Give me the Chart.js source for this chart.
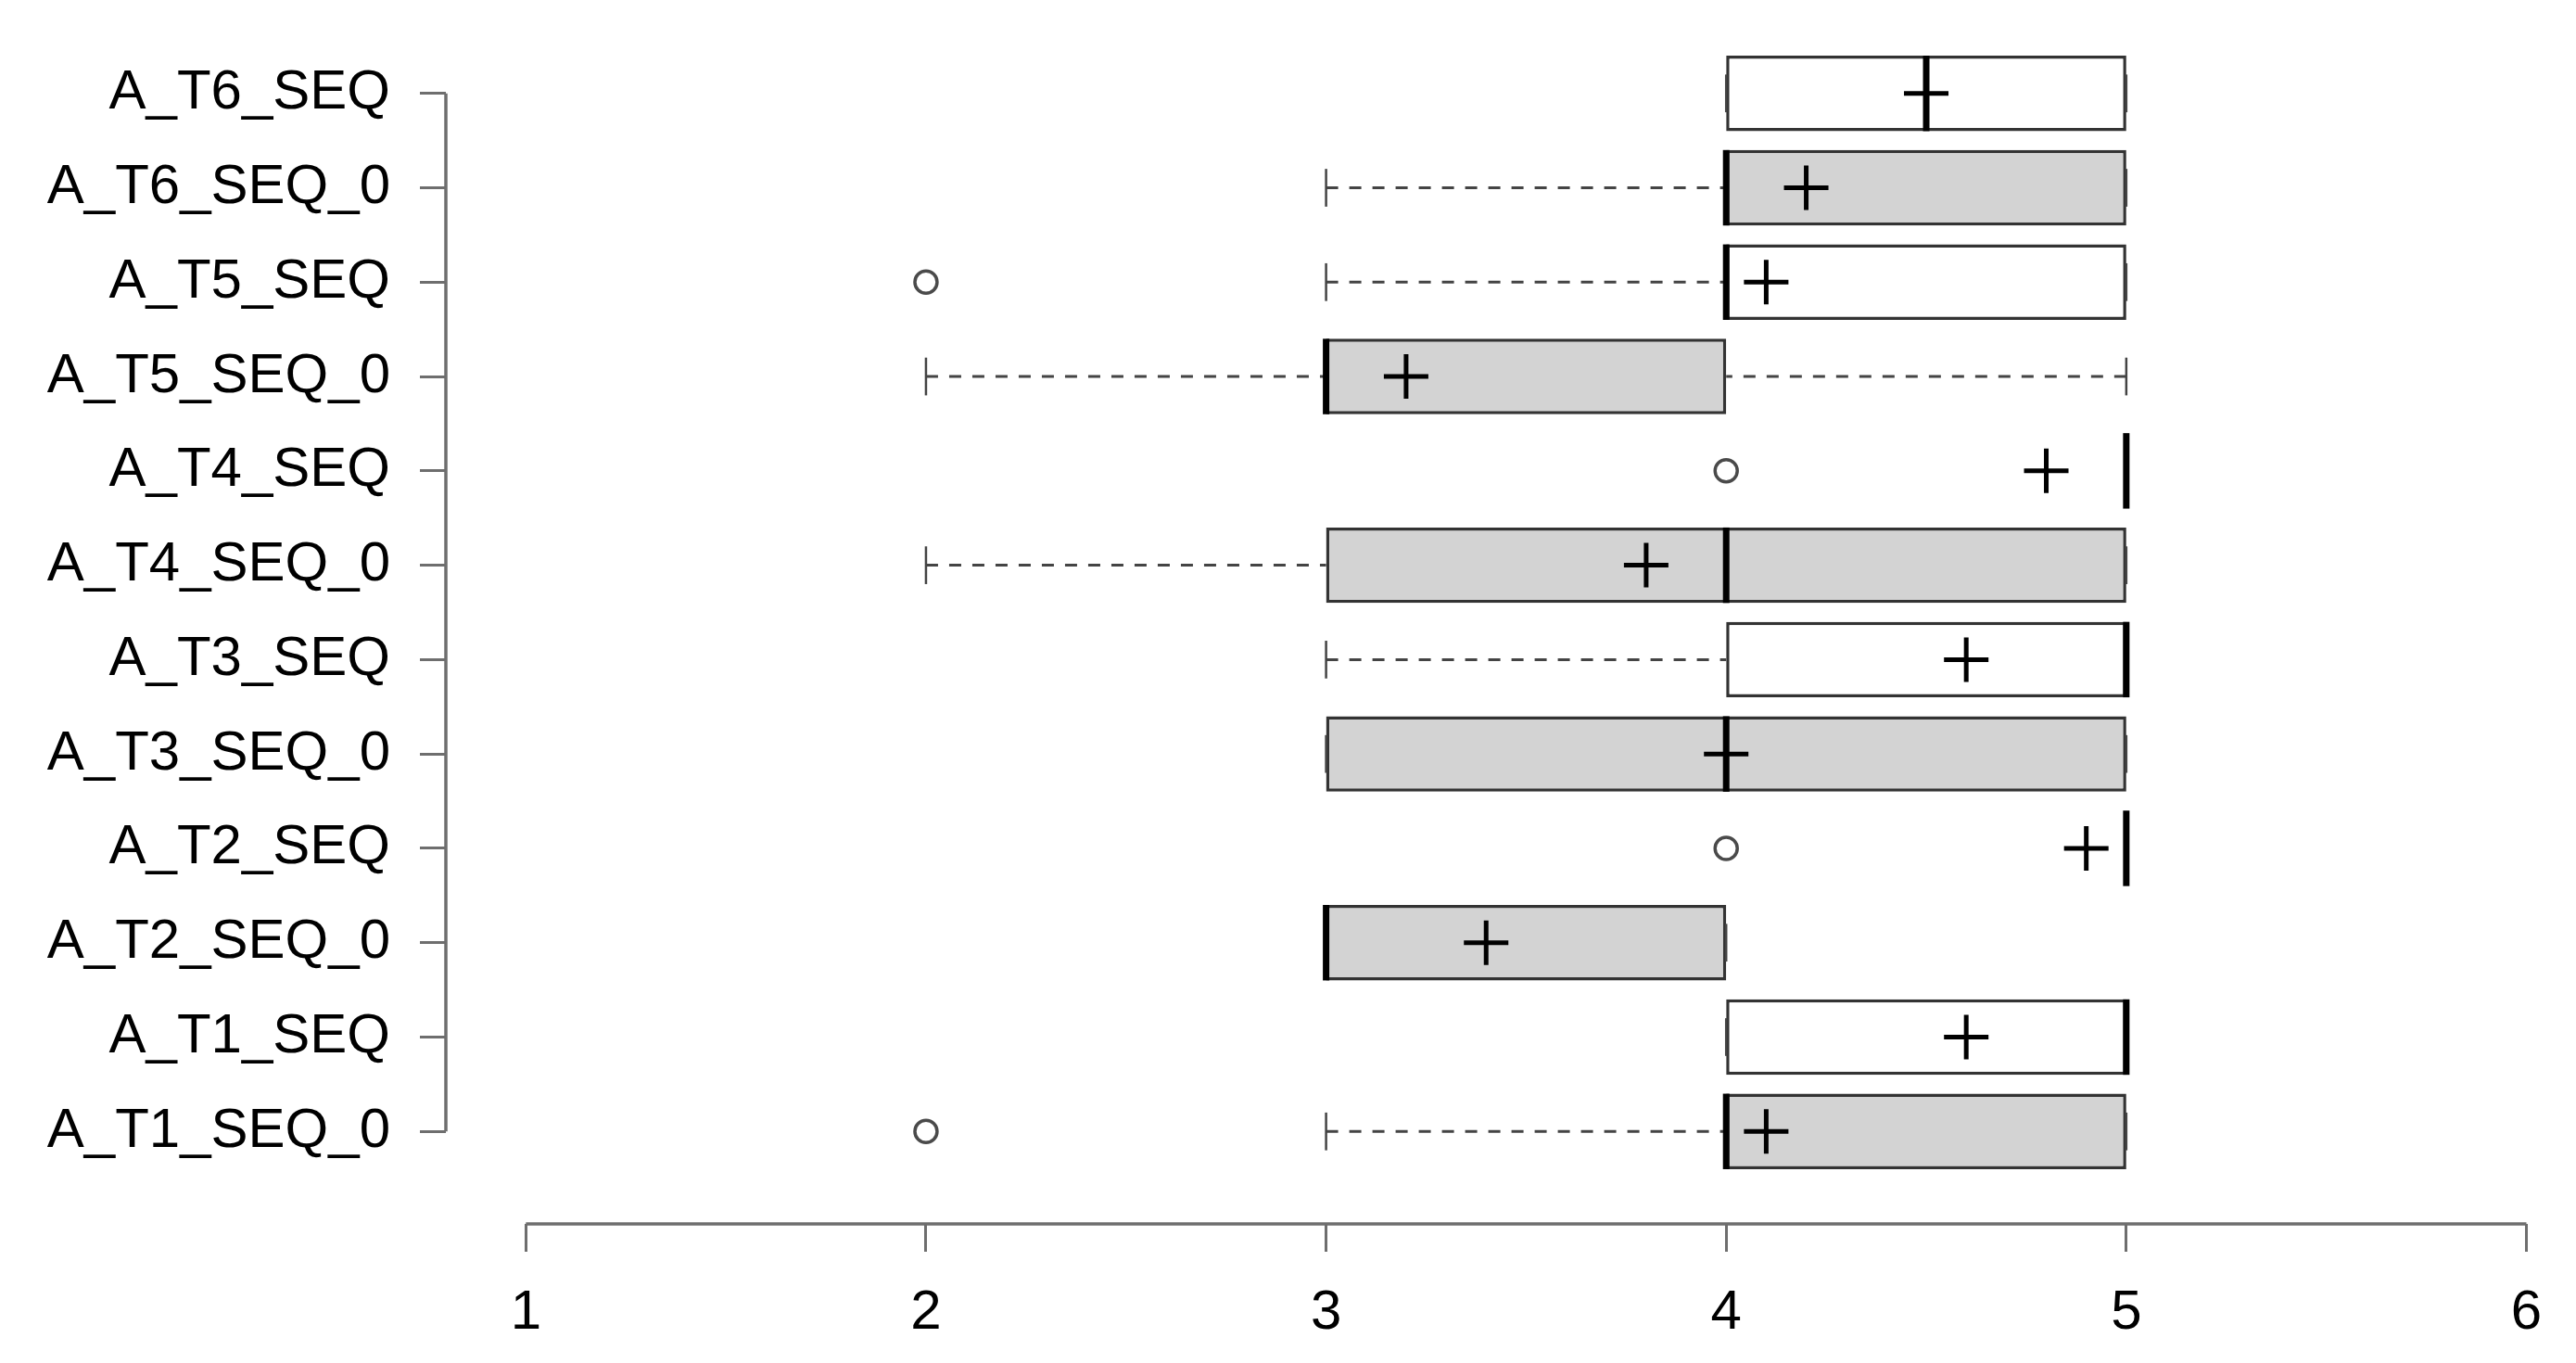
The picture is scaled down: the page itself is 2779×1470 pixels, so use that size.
<!DOCTYPE html>
<html>
<head>
<meta charset="utf-8">
<script src="https://cdn.jsdelivr.net/npm/chart.js@4/dist/chart.umd.min.js"></script>
<style>
  html, body { margin: 0; padding: 0; background: #fff; }
  canvas { display: block; }
</style>
</head>
<body>
<canvas id="chart" width="2779" height="1470"></canvas>
<script>
(function () {
  "use strict";

  // categories bottom to top, the order R stacks a horizontal boxplot
  var categories = [
    "A_T1_SEQ_0", "A_T1_SEQ", "A_T2_SEQ_0", "A_T2_SEQ",
    "A_T3_SEQ_0", "A_T3_SEQ", "A_T4_SEQ_0", "A_T4_SEQ",
    "A_T5_SEQ_0", "A_T5_SEQ", "A_T6_SEQ_0", "A_T6_SEQ"
  ];
  var whiskerLow  = [3, 4, 3, 5, 3, 3, 2, 5, 2, 3, 3, 4];
  var boxLow      = [4, 4, 3, 5, 3, 4, 3, 5, 3, 4, 4, 4];
  var medians     = [4, 5, 3, 5, 4, 5, 4, 5, 3, 4, 4, 4.5];
  var boxHigh     = [5, 5, 4, 5, 5, 5, 5, 5, 4, 5, 5, 5];
  var whiskerHigh = [5, 5, 4, 5, 5, 5, 5, 5, 5, 5, 5, 5];
  var means       = [4.1, 4.6, 3.4, 4.9, 4.0, 4.6, 3.8, 4.8, 3.2, 4.1, 4.2, 4.5];
  var outliers    = [[2], [], [], [4], [], [], [], [4], [], [2], [], []];
  var xTicks      = [1, 2, 3, 4, 5, 6];

  var X_MIN = 0.8;
  var X_MAX = 6.124;
  var Y_MIN = 0.02;
  var Y_MAX = categories.length + 0.98;

  var GRAY_FILL = "#d3d3d3";
  var AXIS_COLOR = "#6e6e6e";
  var FONT = { family: "'Liberation Sans', Arial, sans-serif", size: 60 };

  var boxData = categories.map(function (c, i) {
    return { y: i + 1, x: [boxLow[i], boxHigh[i]] };
  });
  var meanData = categories.map(function (c, i) {
    return { y: i + 1, x: means[i] };
  });
  var outlierData = [];
  outliers.forEach(function (list, i) {
    list.forEach(function (v) {
      outlierData.push({ y: i + 1, x: v });
    });
  });

  function line(ctx, x1, y1, x2, y2) {
    ctx.beginPath();
    ctx.moveTo(x1, y1);
    ctx.lineTo(x2, y2);
    ctx.stroke();
  }

  // whiskers, staples and medians go on top of the boxes, under means/outliers
  var boxplotParts = {
    id: "boxplotParts",
    afterDatasetDraw: function (chart, args) {
      if (args.index !== 0) return;
      var ctx = chart.ctx;
      var xs = chart.scales.x;
      var ys = chart.scales.y;
      var bars = args.meta.data;
      ctx.save();
      for (var i = 0; i < categories.length; i++) {
        var cy = ys.getPixelForValue(i + 1);
        var half = bars[i].height / 2;
        var staple = half / 2;
        var pairs = [[whiskerLow[i], boxLow[i]], [whiskerHigh[i], boxHigh[i]]];
        for (var k = 0; k < 2; k++) {
          var we = xs.getPixelForValue(pairs[k][0]);
          var be = xs.getPixelForValue(pairs[k][1]);
          ctx.strokeStyle = "#444";
          ctx.lineWidth = 3;
          ctx.setLineDash([13, 12]);
          if (we !== be) line(ctx, we, cy, be, cy);
          ctx.setLineDash([]);
          ctx.lineWidth = 2.5;
          line(ctx, we, cy - staple, we, cy + staple);
        }
        var mx = xs.getPixelForValue(medians[i]);
        ctx.strokeStyle = "#000";
        ctx.lineWidth = 7;
        line(ctx, mx, cy - half, mx, cy + half);
      }
      ctx.restore();
    },
    afterDraw: function (chart) {
      var ctx = chart.ctx;
      var xs = chart.scales.x;
      var ys = chart.scales.y;
      var area = chart.chartArea;
      ctx.save();
      ctx.strokeStyle = AXIS_COLOR;
      ctx.lineWidth = 3.5;
      line(ctx, xs.getPixelForValue(xTicks[0]), area.bottom,
        xs.getPixelForValue(xTicks[xTicks.length - 1]), area.bottom);
      line(ctx, area.left, ys.getPixelForValue(1),
        area.left, ys.getPixelForValue(categories.length));
      ctx.restore();
    }
  };

  new Chart(document.getElementById("chart"), {
    type: "bar",
    data: {
      datasets: [
        {
          label: "box",
          data: boxData,
          order: 2,
          backgroundColor: categories.map(function (c) {
            return /_0$/.test(c) ? GRAY_FILL : "#ffffff";
          }),
          borderColor: "#333",
          borderWidth: 3.5,
          borderSkipped: false,
          barPercentage: 0.8,
          categoryPercentage: 1
        },
        {
          type: "line",
          label: "outliers",
          indexAxis: "y",
          data: outlierData,
          order: 1,
          showLine: false,
          pointStyle: "circle",
          pointRadius: 12,
          pointBorderWidth: 3.5,
          pointBorderColor: "#4a4a4a",
          pointBackgroundColor: "rgba(0,0,0,0)"
        },
        {
          type: "line",
          label: "mean",
          indexAxis: "y",
          data: meanData,
          order: 0,
          showLine: false,
          pointStyle: "cross",
          pointRadius: 24,
          pointBorderWidth: 5,
          pointBorderColor: "#000"
        }
      ]
    },
    options: {
      indexAxis: "y",
      responsive: false,
      animation: false,
      events: [],
      layout: { autoPadding: false, padding: { top: 1, right: 0, bottom: 0, left: 0 } },
      plugins: {
        legend: { display: false },
        tooltip: { enabled: false }
      },
      scales: {
        x: {
          type: "linear",
          min: X_MIN,
          max: X_MAX,
          offset: false,
          afterBuildTicks: function (scale) {
            scale.ticks = xTicks.map(function (v) { return { value: v }; });
          },
          afterFit: function (scale) {
            scale.height = 150;
            scale.paddingLeft = 0;
            scale.paddingRight = 0;
          },
          border: { display: false },
          grid: {
            offset: false,
            drawOnChartArea: false,
            drawTicks: true,
            tickLength: 30,
            tickWidth: 3,
            tickColor: AXIS_COLOR
          },
          ticks: {
            autoSkip: false,
            maxRotation: 0,
            padding: 30,
            color: "#000",
            font: FONT,
            callback: function (v) { return String(v); }
          }
        },
        y: {
          type: "linear",
          min: Y_MIN,
          max: Y_MAX,
          offset: false,
          afterBuildTicks: function (scale) {
            scale.ticks = categories.map(function (c, i) { return { value: i + 1 }; });
          },
          afterFit: function (scale) {
            scale.width = 481;
            scale.paddingTop = 0;
            scale.paddingBottom = 0;
          },
          border: { display: false },
          grid: {
            offset: false,
            drawOnChartArea: false,
            drawTicks: true,
            tickLength: 28,
            tickWidth: 3,
            tickColor: AXIS_COLOR
          },
          ticks: {
            autoSkip: false,
            padding: 32,
            color: "#000",
            font: FONT,
            callback: function (v) { return categories[Math.round(v) - 1]; }
          }
        }
      }
    },
    plugins: [boxplotParts]
  });
})();
</script>
</body>
</html>
